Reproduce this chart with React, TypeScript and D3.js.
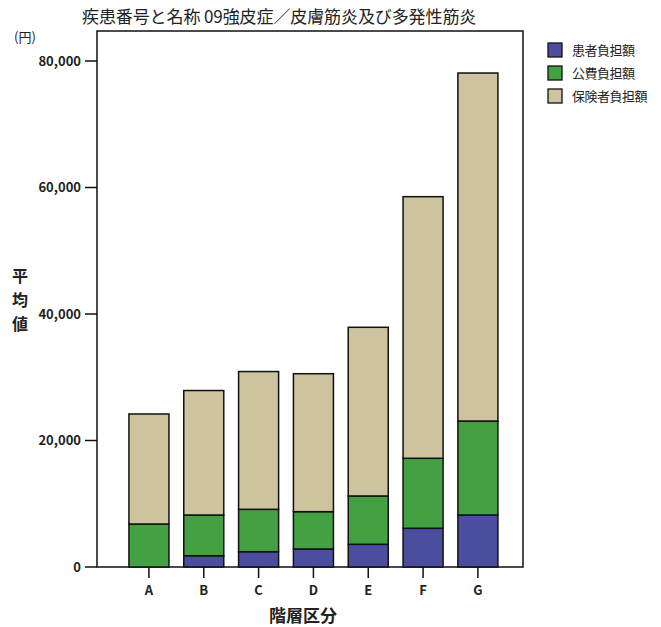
import React from "react";
import * as d3 from "d3";

const categories = ["A", "B", "C", "D", "E", "F", "G"];
const patientValues = [0, 1780, 2420, 2850, 3590, 6120, 8220];
const publicValues = [6800, 6440, 6700, 5900, 7640, 11070, 14860];
const insurerValues = [17390, 19680, 21780, 21810, 26670, 41360, 55020];
const seriesNames = ["患者負担額", "公費負担額", "保険者負担額"];
const seriesColors = ["#4b4e9f", "#43a043", "#cdc39e"];
const yTicks = [0, 20000, 40000, 60000, 80000];

const W = 661;
const H = 627;
const left = 97;
const right = 523;
const top = 31;
const bottom = 567;

export default function App() {
  const x = d3
    .scaleBand<string>()
    .domain(categories)
    .range([left, right])
    .paddingInner(0.27)
    .paddingOuter(0.52)
    .align(0.56);
  const y = d3.scaleLinear().domain([0, 80000]).range([bottom, 61]);

  const rows = categories.map((c, i) => ({
    cat: c,
    s0: patientValues[i],
    s1: publicValues[i],
    s2: insurerValues[i],
  }));
  const stack = d3.stack<any>().keys(["s0", "s1", "s2"]);
  const layers = stack(rows);
  const font = "'Noto Sans CJK JP', 'Noto Sans', sans-serif";

  return (
    <svg width={W} height={H} style={{ position: "absolute", left: 0, top: 0 }}>
      <rect x={0} y={0} width={W} height={H} fill="#ffffff" />
      <text x={82} y={23} fontSize={17} fontFamily={font} fill="#222" letterSpacing={-0.1}>
        疾患番号と名称 09強皮症／皮膚筋炎及び多発性筋炎
      </text>
      <rect x={left} y={top} width={right - left} height={bottom - top} fill="none" stroke="#111" strokeWidth={1.5} />
      {layers.map((layer, li) =>
        layer.map((d, i) => {
          const h = y(d[0]) - y(d[1]);
          if (h <= 0) return null;
          return (
            <rect
              key={`${li}-${i}`}
              x={x(categories[i])!}
              y={y(d[1])}
              width={x.bandwidth()}
              height={h}
              fill={seriesColors[li]}
              stroke="#111"
              strokeWidth={1.5}
            />
          );
        })
      )}
      {yTicks.map((t) => (
        <g key={t}>
          <line x1={85} x2={left} y1={y(t)} y2={y(t)} stroke="#111" strokeWidth={1.5} />
          <text x={81} y={y(t) + 4.5} textAnchor="end" fontSize={13} fontFamily={font} fontWeight={600} fill="#222">
            {d3.format(",")(t)}
          </text>
        </g>
      ))}
      <text x={14} y={42} fontSize={13} fontFamily={font} fill="#222">(円)</text>
      {["平", "均", "値"].map((ch, i) => (
        <text key={ch} x={20} y={282 + i * 24} textAnchor="middle" fontSize={16} fontWeight={700} fontFamily={font} fill="#222">
          {ch}
        </text>
      ))}
      {categories.map((c) => (
        <g key={c}>
          <line x1={x(c)! + x.bandwidth() / 2} x2={x(c)! + x.bandwidth() / 2} y1={bottom} y2={bottom + 11} stroke="#111" strokeWidth={1.5} />
          <text x={x(c)! + x.bandwidth() / 2} y={595} textAnchor="middle" fontSize={13} fontFamily={font} fontWeight={600} fill="#222">
            {c}
          </text>
        </g>
      ))}
      <text x={303} y={622} textAnchor="middle" fontSize={17} fontWeight={700} fontFamily={font} fill="#222">
        階層区分
      </text>
      {seriesNames.map((n, i) => (
        <g key={n}>
          <rect x={548} y={43 + i * 23} width={14} height={14} fill={seriesColors[i]} stroke="#111" strokeWidth={1.3} />
          <text x={572} y={55 + i * 23} fontSize={13} fontFamily={font} fill="#222" letterSpacing={-0.5}>
            {n}
          </text>
        </g>
      ))}
    </svg>
  );
}
